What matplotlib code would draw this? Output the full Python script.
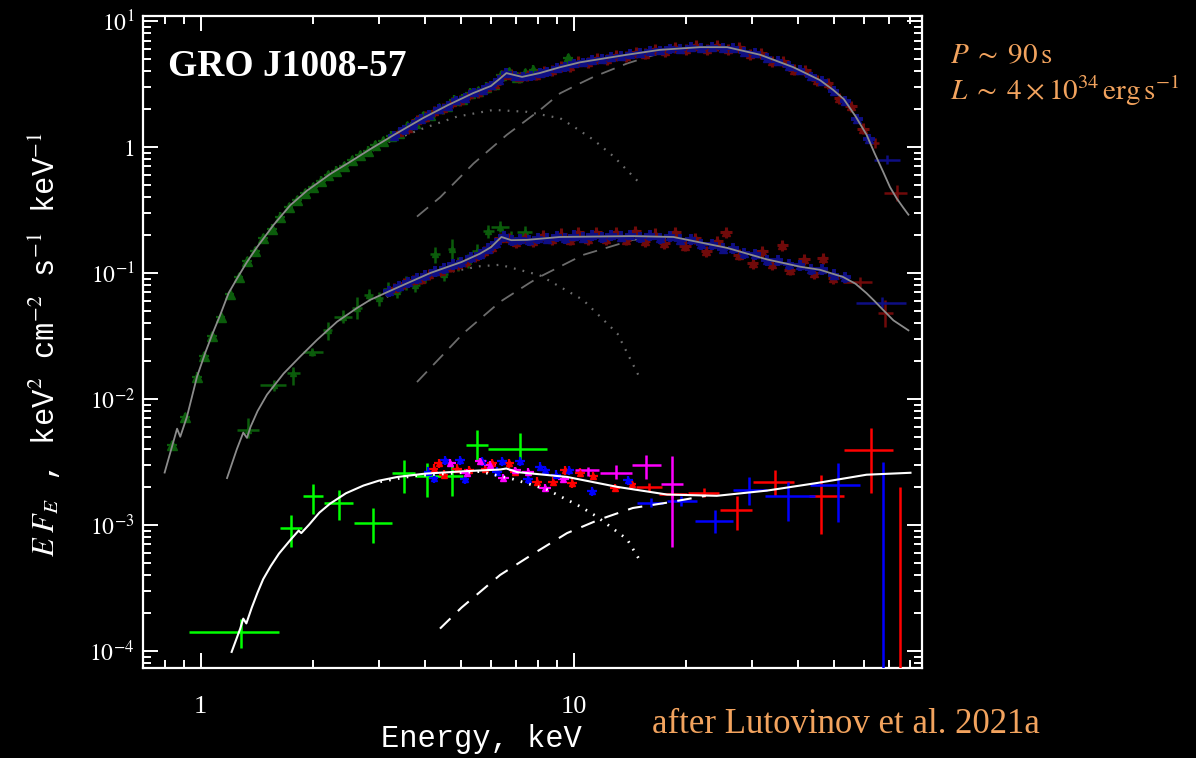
import matplotlib
matplotlib.use("Agg")
import matplotlib.pyplot as plt
from matplotlib.ticker import LogLocator, NullFormatter

plt.rcParams['mathtext.fontset'] = 'stix'

# ---------------- bright state (top) ----------------
top_model_E = [0.80, 0.864, 0.881, 0.918, 0.977, 1.028, 1.072, 1.128, 1.187, 1.25, 1.33, 1.415,
               1.567, 1.738, 1.927, 2.224, 2.52, 2.846, 3.30, 3.95, 4.6, 5.38, 6.0, 6.35, 6.6,
               7.27, 8.1, 9.2, 10.4, 13.9, 17.0, 21.8, 25.8, 31.6, 38.8, 45.7, 49.7, 53.0, 57.0,
               61.0, 64.0, 67.5, 70.5, 73.5, 76.5, 79.0]
top_model_F = [0.0026, 0.0058, 0.0050, 0.0072, 0.0150, 0.0232, 0.0322, 0.0465, 0.069, 0.090, 0.122,
               0.160, 0.240, 0.345, 0.45, 0.61, 0.765, 0.96, 1.25, 1.70, 2.15, 2.68, 3.05, 3.5,
               3.86, 3.6, 3.86, 4.3, 4.7, 5.4, 5.9, 6.2, 6.2, 5.4, 4.3, 3.4, 2.83, 2.4, 1.75,
               1.25, 0.90, 0.64, 0.48, 0.39, 0.33, 0.29]
top_soft_E = [2.3, 2.75, 3.15, 3.96, 4.86, 6.1, 7.5, 9.2, 10.0, 11.3, 12.8, 14.9]
top_soft_F = [0.60, 0.86, 1.08, 1.41, 1.74, 1.97, 1.90, 1.69, 1.45, 1.14, 0.84, 0.53]
top_hard_E = [3.80, 4.39, 5.39, 6.62, 8.13, 9.2, 10.4, 11.3, 13.9, 17.0, 18.9, 20.5]
top_hard_F = [0.28, 0.40, 0.74, 1.25, 1.97, 2.67, 3.2, 3.6, 4.6, 5.55, 5.9, 6.1]

top_xrt_E = [0.837, 0.909, 0.977, 1.02, 1.07, 1.13, 1.195, 1.263, 1.33, 1.40, 1.47, 1.55, 1.63,
             1.72, 1.81, 1.90, 2.00, 2.10, 2.20, 2.31, 2.42, 2.54, 2.67, 2.80, 2.94, 3.08, 3.24,
             3.40, 3.57, 3.75, 3.94, 4.13, 4.34, 4.56, 4.78, 5.02, 5.27, 5.54, 5.81, 6.10, 6.40,
             6.72, 7.06, 7.41, 7.80, 9.65]
top_xrt_F = [0.0043, 0.0072, 0.0150, 0.0220, 0.0317, 0.0449, 0.068, 0.092, 0.124, 0.150, 0.190,
             0.225, 0.280, 0.335, 0.380, 0.430, 0.480, 0.540, 0.600, 0.650, 0.705, 0.790, 0.860,
             0.935, 1.040, 1.110, 1.230, 1.300, 1.460, 1.560, 1.760, 1.800, 2.040, 2.130, 2.380,
             2.420, 2.700, 2.760, 3.020, 3.180, 3.720, 3.950, 3.620, 3.880, 4.120, 5.100]

top_fpma_E = [3.3, 3.5, 3.7, 3.9, 4.1, 4.35, 4.6, 4.85, 5.1, 5.4, 5.7, 6.0, 6.3, 6.6, 6.95, 7.3,
              7.7, 8.1, 8.5, 9.0, 9.5, 10.0, 10.6, 11.2, 11.9, 12.6, 13.4, 14.2, 15.1, 16.0, 17.0,
              18.1, 19.3, 20.6, 22.0, 23.5, 25.1, 26.8, 28.7, 30.7, 32.9, 35.2, 37.7, 40.4, 43.3,
              46.4, 49.8, 53.5, 57.5, 62.0]
top_fpma_F = [1.22, 1.38, 1.49, 1.68, 1.81, 2.01, 2.13, 2.35, 2.46, 2.72, 2.84, 3.09, 3.40, 3.90,
              3.68, 3.64, 3.70, 3.90, 3.98, 4.26, 4.36, 4.62, 4.70, 4.92, 4.98, 5.20, 5.26, 5.50,
              5.58, 5.80, 5.86, 6.06, 6.04, 6.24, 6.14, 6.26, 6.12, 6.16, 5.72, 5.58, 5.10, 4.84,
              4.40, 4.12, 3.64, 3.34, 2.78, 2.32, 1.68, 1.16]
top_fpmb_E = [3.4, 3.6, 3.8, 4.0, 4.22, 4.47, 4.72, 4.97, 5.25, 5.55, 5.85, 6.15, 6.45, 6.78, 7.12,
              7.5, 7.9, 8.3, 8.75, 9.25, 9.75, 10.3, 10.9, 11.55, 12.25, 13.0, 13.8, 14.65, 15.55,
              16.5, 17.55, 18.7, 19.95, 21.3, 22.75, 24.3, 25.95, 27.75, 29.7, 31.8, 34.0, 36.4,
              39.0, 41.8, 44.8, 48.0, 51.6, 55.5, 59.7]
top_fpmb_F = [1.31, 1.41, 1.63, 1.74, 1.93, 2.04, 2.26, 2.37, 2.63, 2.74, 3.00, 3.16, 3.70, 3.76,
              3.60, 3.72, 3.76, 4.02, 4.06, 4.40, 4.40, 4.76, 4.70, 5.08, 4.98, 5.34, 5.24, 5.66,
              5.52, 5.98, 5.78, 6.24, 5.96, 6.40, 6.02, 6.44, 5.98, 6.20, 5.44, 5.56, 4.80, 4.80,
              4.12, 4.05, 3.38, 3.20, 2.45, 2.12, 1.40]
# wide high-energy bins
top_binb_E = [64.3, 73.5]
top_binb_F = [1.07, 0.43]
top_binb_xlo = [62.5, 68.0]
top_binb_xhi = [66.0, 78.5]
top_binb_ylo = [0.98, 0.37]
top_binb_yhi = [1.17, 0.50]
top_bina_E = [69.0]
top_bina_F = [0.79]
top_bina_xlo = [63.8]
top_bina_xhi = [75.0]
top_bina_ylo = [0.73]
top_bina_yhi = [0.86]

# ---------------- intermediate state (middle) ----------------
mid_model_E = [1.176, 1.25, 1.30, 1.33, 1.36, 1.42, 1.505, 1.668, 1.848, 2.05, 2.32, 2.62, 2.846,
               3.3, 4.13, 5.0, 5.6, 6.0, 6.4, 6.8, 7.5, 9.2, 14.4, 18.5, 25.8, 33.0, 40.5, 45.7,
               52.7, 57.0, 61.0, 64.0, 67.5, 72.0, 79.0]
mid_model_F = [0.00235, 0.0040, 0.0054, 0.0049, 0.0060, 0.0080, 0.0108, 0.0159, 0.0217, 0.0294,
               0.041, 0.0525, 0.0611, 0.0745, 0.100, 0.122, 0.142, 0.160, 0.193, 0.182, 0.183,
               0.193, 0.196, 0.193, 0.158, 0.128, 0.112, 0.106, 0.093, 0.082, 0.069, 0.060, 0.051,
               0.042, 0.035]
mid_soft_E = [3.0, 3.8, 4.5, 5.6, 6.35, 8.1, 10.6, 13.1, 14.9]
mid_soft_F = [0.060, 0.085, 0.100, 0.113, 0.116, 0.096, 0.061, 0.033, 0.0155]
mid_hard_E = [3.8, 5.05, 6.35, 7.6, 8.1, 10.6, 14.4, 17.8, 19.5]
mid_hard_F = [0.0136, 0.033, 0.059, 0.083, 0.093, 0.139, 0.183, 0.190, 0.190]

mid_xrt_E = [1.34, 1.567, 1.77, 1.99, 2.19, 2.40, 2.62, 2.82, 3.00, 3.18, 3.35, 3.55, 3.75, 4.00,
             4.26, 4.50, 4.72, 4.90, 5.20, 5.50, 5.90, 6.35, 6.80, 7.40]
mid_xrt_F = [0.0057, 0.0129, 0.0160, 0.0237, 0.0354, 0.045, 0.0525, 0.067, 0.063, 0.075, 0.072,
             0.083, 0.080, 0.094, 0.142, 0.098, 0.155, 0.118, 0.125, 0.150, 0.216, 0.230, 0.190,
             0.210]
mid_xrt_xlo = [1.25, 1.44, 1.70, 1.88, 2.13, 2.27, 2.55, 2.74, 2.92, 3.09, 3.27, 3.45, 3.65, 3.87,
               4.13, 4.39, 4.61, 4.81, 5.05, 5.35, 5.70, 6.00, 6.70, 7.05]
mid_xrt_xhi = [1.43, 1.69, 1.84, 2.13, 2.25, 2.55, 2.70, 2.90, 3.08, 3.27, 3.45, 3.65, 3.87, 4.13,
               4.39, 4.61, 4.81, 5.05, 5.35, 5.70, 6.10, 6.70, 7.05, 7.75]
mid_xrt_ylo = [0.0049, 0.0116, 0.0129, 0.0219, 0.0291, 0.040, 0.043, 0.060, 0.055, 0.066, 0.063,
               0.073, 0.070, 0.083, 0.120, 0.086, 0.130, 0.103, 0.110, 0.131, 0.190, 0.210, 0.168,
               0.186]
mid_xrt_yhi = [0.0070, 0.0140, 0.0180, 0.0255, 0.041, 0.051, 0.064, 0.075, 0.071, 0.085, 0.082,
               0.094, 0.091, 0.106, 0.160, 0.111, 0.185, 0.134, 0.141, 0.170, 0.240, 0.260, 0.214,
               0.236]

mid_fpma_E = [3.2, 3.4, 3.6, 3.8, 4.0, 4.25, 4.5, 4.75, 5.0, 5.3, 5.6, 5.9, 6.2, 6.5, 6.85, 7.2,
              7.6, 8.0, 8.5, 9.0, 9.5, 10.0, 10.6, 11.2, 11.9, 12.6, 13.4, 14.2, 15.1, 16.0, 17.0,
              18.1, 19.3, 20.6, 22.0, 23.5, 25.1, 26.8, 28.7, 30.7, 32.9, 35.2, 37.7, 40.4, 43.3,
              46.4, 49.8, 53.5]
mid_fpma_F = [0.072, 0.079, 0.084, 0.091, 0.096, 0.104, 0.109, 0.117, 0.121, 0.133, 0.141, 0.156,
              0.172, 0.197, 0.181, 0.185, 0.182, 0.189, 0.187, 0.196, 0.190, 0.198, 0.191, 0.199,
              0.193, 0.200, 0.194, 0.201, 0.192, 0.199, 0.190, 0.197, 0.184, 0.185, 0.170, 0.170,
              0.156, 0.158, 0.143, 0.141, 0.127, 0.126, 0.117, 0.115, 0.107, 0.107, 0.097, 0.092]
mid_fpmb_E = [3.3, 3.5, 3.7, 3.9, 4.1, 4.4, 4.65, 4.9, 5.15, 5.45, 5.75, 6.05, 6.35, 6.7, 7.0, 7.4,
              7.8, 8.25, 8.75, 9.25, 9.75, 10.3, 10.9, 11.5, 12.2, 13.0, 13.8, 14.6, 15.5, 16.5,
              17.5, 18.7, 19.9, 21.2, 22.7, 24.3, 25.6, 27.7, 30.2, 32.0, 34.0, 36.3, 38.0, 41.5,
              44.0, 46.5, 49.7]
mid_fpmb_F = [0.076, 0.083, 0.088, 0.090, 0.098, 0.104, 0.112, 0.118, 0.124, 0.136, 0.148, 0.160,
              0.188, 0.188, 0.176, 0.192, 0.180, 0.200, 0.185, 0.205, 0.184, 0.210, 0.186, 0.212,
              0.185, 0.210, 0.184, 0.215, 0.180, 0.205, 0.172, 0.210, 0.165, 0.190, 0.150, 0.178,
              0.210, 0.140, 0.120, 0.150, 0.118, 0.167, 0.106, 0.128, 0.100, 0.131, 0.091]
mid_binb_E = [58.7, 68.5]
mid_binb_F = [0.085, 0.048]
mid_binb_xlo = [52.8, 65.5]
mid_binb_xhi = [63.0, 72.0]
mid_binb_ylo = [0.078, 0.037]
mid_binb_yhi = [0.092, 0.061]
mid_bina_E = [67.2]
mid_bina_F = [0.058]
mid_bina_xlo = [57.0]
mid_bina_xhi = [78.0]
mid_bina_ylo = [0.053]
mid_bina_yhi = [0.064]

# ---------------- low state (bottom) ----------------
low_model_E = [1.21, 1.276, 1.30, 1.325, 1.37, 1.42, 1.47, 1.54, 1.62, 1.74, 1.83, 1.86, 1.95,
               2.08, 2.22, 2.45, 2.73, 3.0, 3.37, 4.0, 5.05, 6.35, 6.6, 7.06, 9.6, 13.1, 17.8,
               24.2, 33.0, 45.0, 61.0, 80.0]
low_model_F = [9.8e-5, 1.5e-4, 1.8e-4, 1.65e-4, 2.2e-4, 2.9e-4, 3.7e-4, 4.7e-4, 5.9e-4, 7.6e-4,
               9.0e-4, 8.6e-4, 1.0e-3, 1.25e-3, 1.47e-3, 1.78e-3, 2.05e-3, 2.24e-3, 2.4e-3, 2.55e-3,
               2.66e-3, 2.75e-3, 2.8e-3, 2.62e-3, 2.4e-3, 2.0e-3, 1.74e-3, 1.7e-3, 1.87e-3,
               2.15e-3, 2.5e-3, 2.59e-3]
low_soft_E = [3.03, 3.72, 5.6, 6.9, 8.5, 10.4, 11.5, 13.9, 15.0]
low_soft_F = [2.2e-3, 2.45e-3, 2.65e-3, 2.3e-3, 1.9e-3, 1.4e-3, 1.17e-3, 7.7e-4, 5.3e-4]
low_hard_E = [4.38, 5.0, 6.35, 7.8, 9.6, 11.7, 14.4, 17.8, 22.6]
low_hard_F = [1.5e-4, 2.2e-4, 4.0e-4, 5.9e-4, 8.6e-4, 1.1e-3, 1.36e-3, 1.5e-3, 1.7e-3]

low_xrt_E = [1.28, 1.75, 2.00, 2.35, 2.90, 3.50, 4.04, 4.72, 5.50, 7.18]
low_xrt_F = [1.4e-4, 9.5e-4, 1.7e-3, 1.5e-3, 1.03e-3, 2.6e-3, 2.45e-3, 2.45e-3, 4.3e-3, 4.0e-3]
low_xrt_xlo = [0.93, 1.63, 1.88, 2.14, 2.58, 3.26, 3.76, 4.40, 5.14, 5.90]
low_xrt_xhi = [1.62, 1.87, 2.13, 2.56, 3.26, 3.76, 4.40, 5.05, 5.90, 8.50]
low_xrt_ylo = [1.06e-4, 6.7e-4, 1.23e-3, 1.1e-3, 7.2e-4, 1.8e-3, 1.67e-3, 1.7e-3, 3.2e-3, 3.1e-3]
low_xrt_yhi = [1.8e-4, 1.2e-3, 2.1e-3, 1.9e-3, 1.37e-3, 3.3e-3, 3.1e-3, 3.0e-3, 5.7e-3, 5.4e-3]

low_fpmb_E = [4.21, 4.34, 4.48, 4.86, 5.23, 5.80, 6.04, 6.70, 6.97, 7.97, 8.80, 9.45, 9.90, 10.4,
              11.3, 12.9, 14.3]
low_fpmb_F = [2.8e-3, 3.1e-3, 2.5e-3, 2.8e-3, 2.7e-3, 2.8e-3, 3.1e-3, 3.1e-3, 2.65e-3, 2.2e-3,
              2.2e-3, 2.7e-3, 2.15e-3, 2.6e-3, 2.45e-3, 1.97e-3, 2.1e-3]
low_fpma_E = [4.08, 4.21, 4.52, 4.96, 5.10, 5.67, 6.23, 6.42, 7.18, 7.55, 8.12, 8.38, 8.98, 9.70,
              11.2, 14.0]
low_fpma_F = [2.65e-3, 2.35e-3, 3.26e-3, 3.26e-3, 2.3e-3, 3.2e-3, 2.65e-3, 3.2e-3, 3.2e-3, 2.3e-3,
              2.9e-3, 2.7e-3, 2.5e-3, 2.7e-3, 1.85e-3, 2.25e-3]
low_pn_E = [4.66, 5.17, 5.62, 5.97, 6.48, 6.97, 7.55, 8.38, 9.38]
low_pn_F = [3.1e-3, 2.6e-3, 3.2e-3, 3.0e-3, 2.35e-3, 2.7e-3, 2.65e-3, 1.96e-3, 2.3e-3]

low_binb_E = [15.9, 18.4, 22.4, 27.4, 34.6, 46.0, 62.6]
low_binb_F = [2.0e-3, 1.77e-3, 1.8e-3, 1.3e-3, 2.17e-3, 1.7e-3, 3.9e-3]
low_binb_xlo = [14.7, 16.9, 20.2, 24.7, 30.2, 42.8, 53.0]
low_binb_xhi = [17.2, 20.1, 24.6, 30.1, 39.0, 53.0, 72.0]
low_binb_ylo = [1.85e-3, 1.62e-3, 1.65e-3, 9.1e-4, 1.7e-3, 8.4e-4, 1.8e-3]
low_binb_yhi = [2.15e-3, 1.9e-3, 1.95e-3, 1.7e-3, 2.7e-3, 2.5e-3, 5.9e-3]
low_bina_E = [16.1, 19.4, 23.9, 29.5, 37.6, 51.0]
low_bina_F = [1.5e-3, 1.55e-3, 1.07e-3, 1.9e-3, 1.7e-3, 2.08e-3]
low_bina_xlo = [14.8, 17.8, 21.2, 26.8, 32.6, 43.1]
low_bina_xhi = [17.4, 21.4, 26.8, 33.0, 44.5, 58.7]
low_bina_ylo = [1.38e-3, 1.42e-3, 8.6e-4, 1.45e-3, 1.07e-3, 1.05e-3]
low_bina_yhi = [1.62e-3, 1.7e-3, 1.3e-3, 2.4e-3, 2.2e-3, 3.1e-3]
low_binpn_E = [10.9, 13.0, 15.6, 18.3]
low_binpn_F = [2.7e-3, 2.6e-3, 3.0e-3, 2.1e-3]
low_binpn_xlo = [10.1, 11.8, 14.3, 17.1]
low_binpn_xhi = [11.7, 14.3, 17.1, 19.6]
low_binpn_ylo = [2.45e-3, 2.3e-3, 2.3e-3, 6.7e-4]
low_binpn_yhi = [2.9e-3, 3.0e-3, 3.6e-3, 3.5e-3]
# upper limits (bins consistent with zero)
low_ul_E = [67.5, 75.0]
low_ul_F = [3.15e-3, 2.0e-3]

y_ticks = [1e-4, 1e-3, 1e-2, 1e-1, 1, 10]
y_ticklabels = [r'$10^{-4}$', r'$10^{-3}$', r'$10^{-2}$', r'$10^{-1}$', r'$1$', r'$10^{1}$']
x_ticks = [1, 10]
x_ticklabels = ['1', '10']

# colours
c_dgreen = '#0b5c0b'
c_dblue = '#0e0e84'
c_dred = '#700a0a'
c_gmodel = '#8c8c8c'
c_gcomp = '#6c6c6c'
c_orange = '#f2a35e'


def err_asym(vals, lo, hi):
    return [[v - l for v, l in zip(vals, lo)], [h - v for v, h in zip(vals, hi)]]


def err_frac(vals, frac):
    return [v * frac for v in vals]


fig = plt.figure(figsize=(11.96, 7.58), dpi=100, facecolor='black')
ax = fig.add_axes([143 / 1196, 1 - 668 / 758, (922 - 143) / 1196, (668 - 16) / 758])
ax.set_facecolor('black')
ax.set_xscale('log')
ax.set_yscale('log')

# --- bright state
ax.errorbar(top_xrt_E, top_xrt_F, xerr=err_frac(top_xrt_E, 0.03), yerr=err_frac(top_xrt_F, 0.08),
            fmt='^', ms=6.5, color=c_dgreen, elinewidth=1.6, capsize=0, zorder=2)
ax.errorbar(top_fpmb_E, top_fpmb_F, xerr=err_frac(top_fpmb_E, 0.035), yerr=err_frac(top_fpmb_F, 0.10),
            fmt='^', ms=6, color=c_dred, elinewidth=2.2, capsize=0, zorder=2)
ax.errorbar(top_fpma_E, top_fpma_F, xerr=err_frac(top_fpma_E, 0.035), yerr=err_frac(top_fpma_F, 0.09),
            fmt='^', ms=6, color=c_dblue, elinewidth=2.8, capsize=0, zorder=3)
ax.errorbar(top_binb_E, top_binb_F, xerr=err_asym(top_binb_E, top_binb_xlo, top_binb_xhi),
            yerr=err_asym(top_binb_F, top_binb_ylo, top_binb_yhi),
            fmt='none', color=c_dred, elinewidth=1.8, capsize=0, zorder=2)
ax.errorbar(top_bina_E, top_bina_F, xerr=err_asym(top_bina_E, top_bina_xlo, top_bina_xhi),
            yerr=err_asym(top_bina_F, top_bina_ylo, top_bina_yhi),
            fmt='none', color=c_dblue, elinewidth=1.8, capsize=0, zorder=3)
ax.plot(top_model_E, top_model_F, color=c_gmodel, lw=1.3, zorder=4)
ax.plot(top_soft_E, top_soft_F, color=c_gcomp, lw=1.6, ls=(0, (0.8, 3.2)), zorder=1)
ax.plot(top_hard_E, top_hard_F, color=c_gcomp, lw=1.3, ls=(0, (8, 5)), zorder=1)

# --- intermediate state
ax.errorbar(mid_xrt_E, mid_xrt_F, xerr=err_asym(mid_xrt_E, mid_xrt_xlo, mid_xrt_xhi),
            yerr=err_asym(mid_xrt_F, mid_xrt_ylo, mid_xrt_yhi),
            fmt='^', ms=4.5, color=c_dgreen, elinewidth=1.8, capsize=0, zorder=2)
ax.errorbar(mid_fpmb_E, mid_fpmb_F, xerr=err_frac(mid_fpmb_E, 0.035), yerr=err_frac(mid_fpmb_F, 0.10),
            fmt='^', ms=6, color=c_dred, elinewidth=2.2, capsize=0, zorder=2)
ax.errorbar(mid_fpma_E, mid_fpma_F, xerr=err_frac(mid_fpma_E, 0.035), yerr=err_frac(mid_fpma_F, 0.10),
            fmt='^', ms=6, color=c_dblue, elinewidth=2.8, capsize=0, zorder=3)
ax.errorbar(mid_binb_E, mid_binb_F, xerr=err_asym(mid_binb_E, mid_binb_xlo, mid_binb_xhi),
            yerr=err_asym(mid_binb_F, mid_binb_ylo, mid_binb_yhi),
            fmt='none', color=c_dred, elinewidth=1.8, capsize=0, zorder=2)
ax.errorbar(mid_bina_E, mid_bina_F, xerr=err_asym(mid_bina_E, mid_bina_xlo, mid_bina_xhi),
            yerr=err_asym(mid_bina_F, mid_bina_ylo, mid_bina_yhi),
            fmt='none', color=c_dblue, elinewidth=1.8, capsize=0, zorder=3)
ax.plot(mid_model_E, mid_model_F, color=c_gmodel, lw=1.3, zorder=4)
ax.plot(mid_soft_E, mid_soft_F, color=c_gcomp, lw=1.6, ls=(0, (0.8, 3.2)), zorder=1)
ax.plot(mid_hard_E, mid_hard_F, color=c_gcomp, lw=1.3, ls=(0, (8, 5)), zorder=1)

# --- low state
ax.errorbar(low_xrt_E, low_xrt_F, xerr=err_asym(low_xrt_E, low_xrt_xlo, low_xrt_xhi),
            yerr=err_asym(low_xrt_F, low_xrt_ylo, low_xrt_yhi),
            fmt='none', color='#00ff00', elinewidth=1.8, capsize=0, zorder=5)
ax.errorbar(low_fpmb_E, low_fpmb_F, xerr=err_frac(low_fpmb_E, 0.03), yerr=err_frac(low_fpmb_F, 0.08),
            fmt='^', ms=5, color='#ff0000', elinewidth=1.6, capsize=0, zorder=5)
ax.errorbar(low_fpma_E, low_fpma_F, xerr=err_frac(low_fpma_E, 0.03), yerr=err_frac(low_fpma_F, 0.08),
            fmt='^', ms=5, color='#0000ff', elinewidth=1.6, capsize=0, zorder=5)
ax.errorbar(low_pn_E, low_pn_F, xerr=err_frac(low_pn_E, 0.035), yerr=err_frac(low_pn_F, 0.07),
            fmt='^', ms=5, color='#ff00ff', elinewidth=1.6, capsize=0, zorder=5)
ax.errorbar(low_binb_E, low_binb_F, xerr=err_asym(low_binb_E, low_binb_xlo, low_binb_xhi),
            yerr=err_asym(low_binb_F, low_binb_ylo, low_binb_yhi),
            fmt='none', color='#ff0000', elinewidth=1.8, capsize=0, zorder=5)
ax.errorbar(low_bina_E, low_bina_F, xerr=err_asym(low_bina_E, low_bina_xlo, low_bina_xhi),
            yerr=err_asym(low_bina_F, low_bina_ylo, low_bina_yhi),
            fmt='none', color='#0000ff', elinewidth=1.8, capsize=0, zorder=5)
ax.errorbar(low_binpn_E, low_binpn_F, xerr=err_asym(low_binpn_E, low_binpn_xlo, low_binpn_xhi),
            yerr=err_asym(low_binpn_F, low_binpn_ylo, low_binpn_yhi),
            fmt='none', color='#ff00ff', elinewidth=1.8, capsize=0, zorder=5)
ax.vlines(low_ul_E, 1e-6, low_ul_F, colors=['#0000ff', '#ff0000'], lw=1.8, zorder=5)
ax.plot(low_model_E, low_model_F, color='white', lw=1.5, zorder=6)
ax.plot(low_soft_E, low_soft_F, color='white', lw=2, ls=(0, (0.6, 2.6)), zorder=6)
ax.plot(low_hard_E, low_hard_F, color='white', lw=1.5, ls=(0, (7, 5)), zorder=6)

ax.set_xlim(0.70, 85.9)
ax.set_ylim(7.3e-5, 10.96)

for sp in ax.spines.values():
    sp.set_color('white')
    sp.set_linewidth(1.6)

ax.set_xticks(x_ticks)
ax.set_xticklabels(x_ticklabels, fontfamily='Liberation Serif', fontsize=19)
ax.set_yticks(y_ticks)
ax.set_yticklabels(y_ticklabels, fontsize=17)
ax.xaxis.set_minor_locator(LogLocator(base=10, subs=range(2, 10), numticks=20))
ax.yaxis.set_minor_locator(LogLocator(base=10, subs=range(2, 10), numticks=20))
ax.xaxis.set_minor_formatter(NullFormatter())
ax.yaxis.set_minor_formatter(NullFormatter())
ax.tick_params(which='both', direction='in', top=True, right=True, colors='white', width=1.4)
ax.tick_params(which='major', length=11)
ax.tick_params(which='minor', length=5.5)
ax.tick_params(axis='x', which='major', pad=20)
ax.tick_params(axis='y', which='major', pad=6)

fig.text(45 / 1196, 1 - 345 / 758,
         r'$E\;F_{E}$ , keV$^{2}$ cm$^{-2}$ s$^{-1}$ keV$^{-1}$',
         rotation=90, color='white', fontsize=22, fontfamily='Liberation Mono',
         ha='center', va='center')
fig.text(481 / 1196, 1 - 747 / 758, 'Energy, keV', color='white', fontsize=22,
         fontfamily='Liberation Mono', ha='center', va='baseline')
fig.text(168 / 1196, 1 - 76 / 758, 'GRO J1008-57', color='white', fontsize=27,
         fontweight='bold', fontfamily='Liberation Serif', va='baseline')
fig.text(950 / 1196, 1 - 63 / 758, r'$P\;\sim\;90\,\mathrm{s}$', color=c_orange, fontsize=21,
         va='baseline')
fig.text(950 / 1196, 1 - 100 / 758, r'$L\;\sim\;4\times10^{34}\,\mathrm{erg\,s^{-1}}$',
         color=c_orange, fontsize=21, va='baseline')
fig.text(652 / 1196, 1 - 733 / 758, 'after Lutovinov et al. 2021a', color=c_orange,
         fontsize=25, fontfamily='Liberation Serif', va='baseline')

fig.savefig('out.png', dpi=100, facecolor='black')
